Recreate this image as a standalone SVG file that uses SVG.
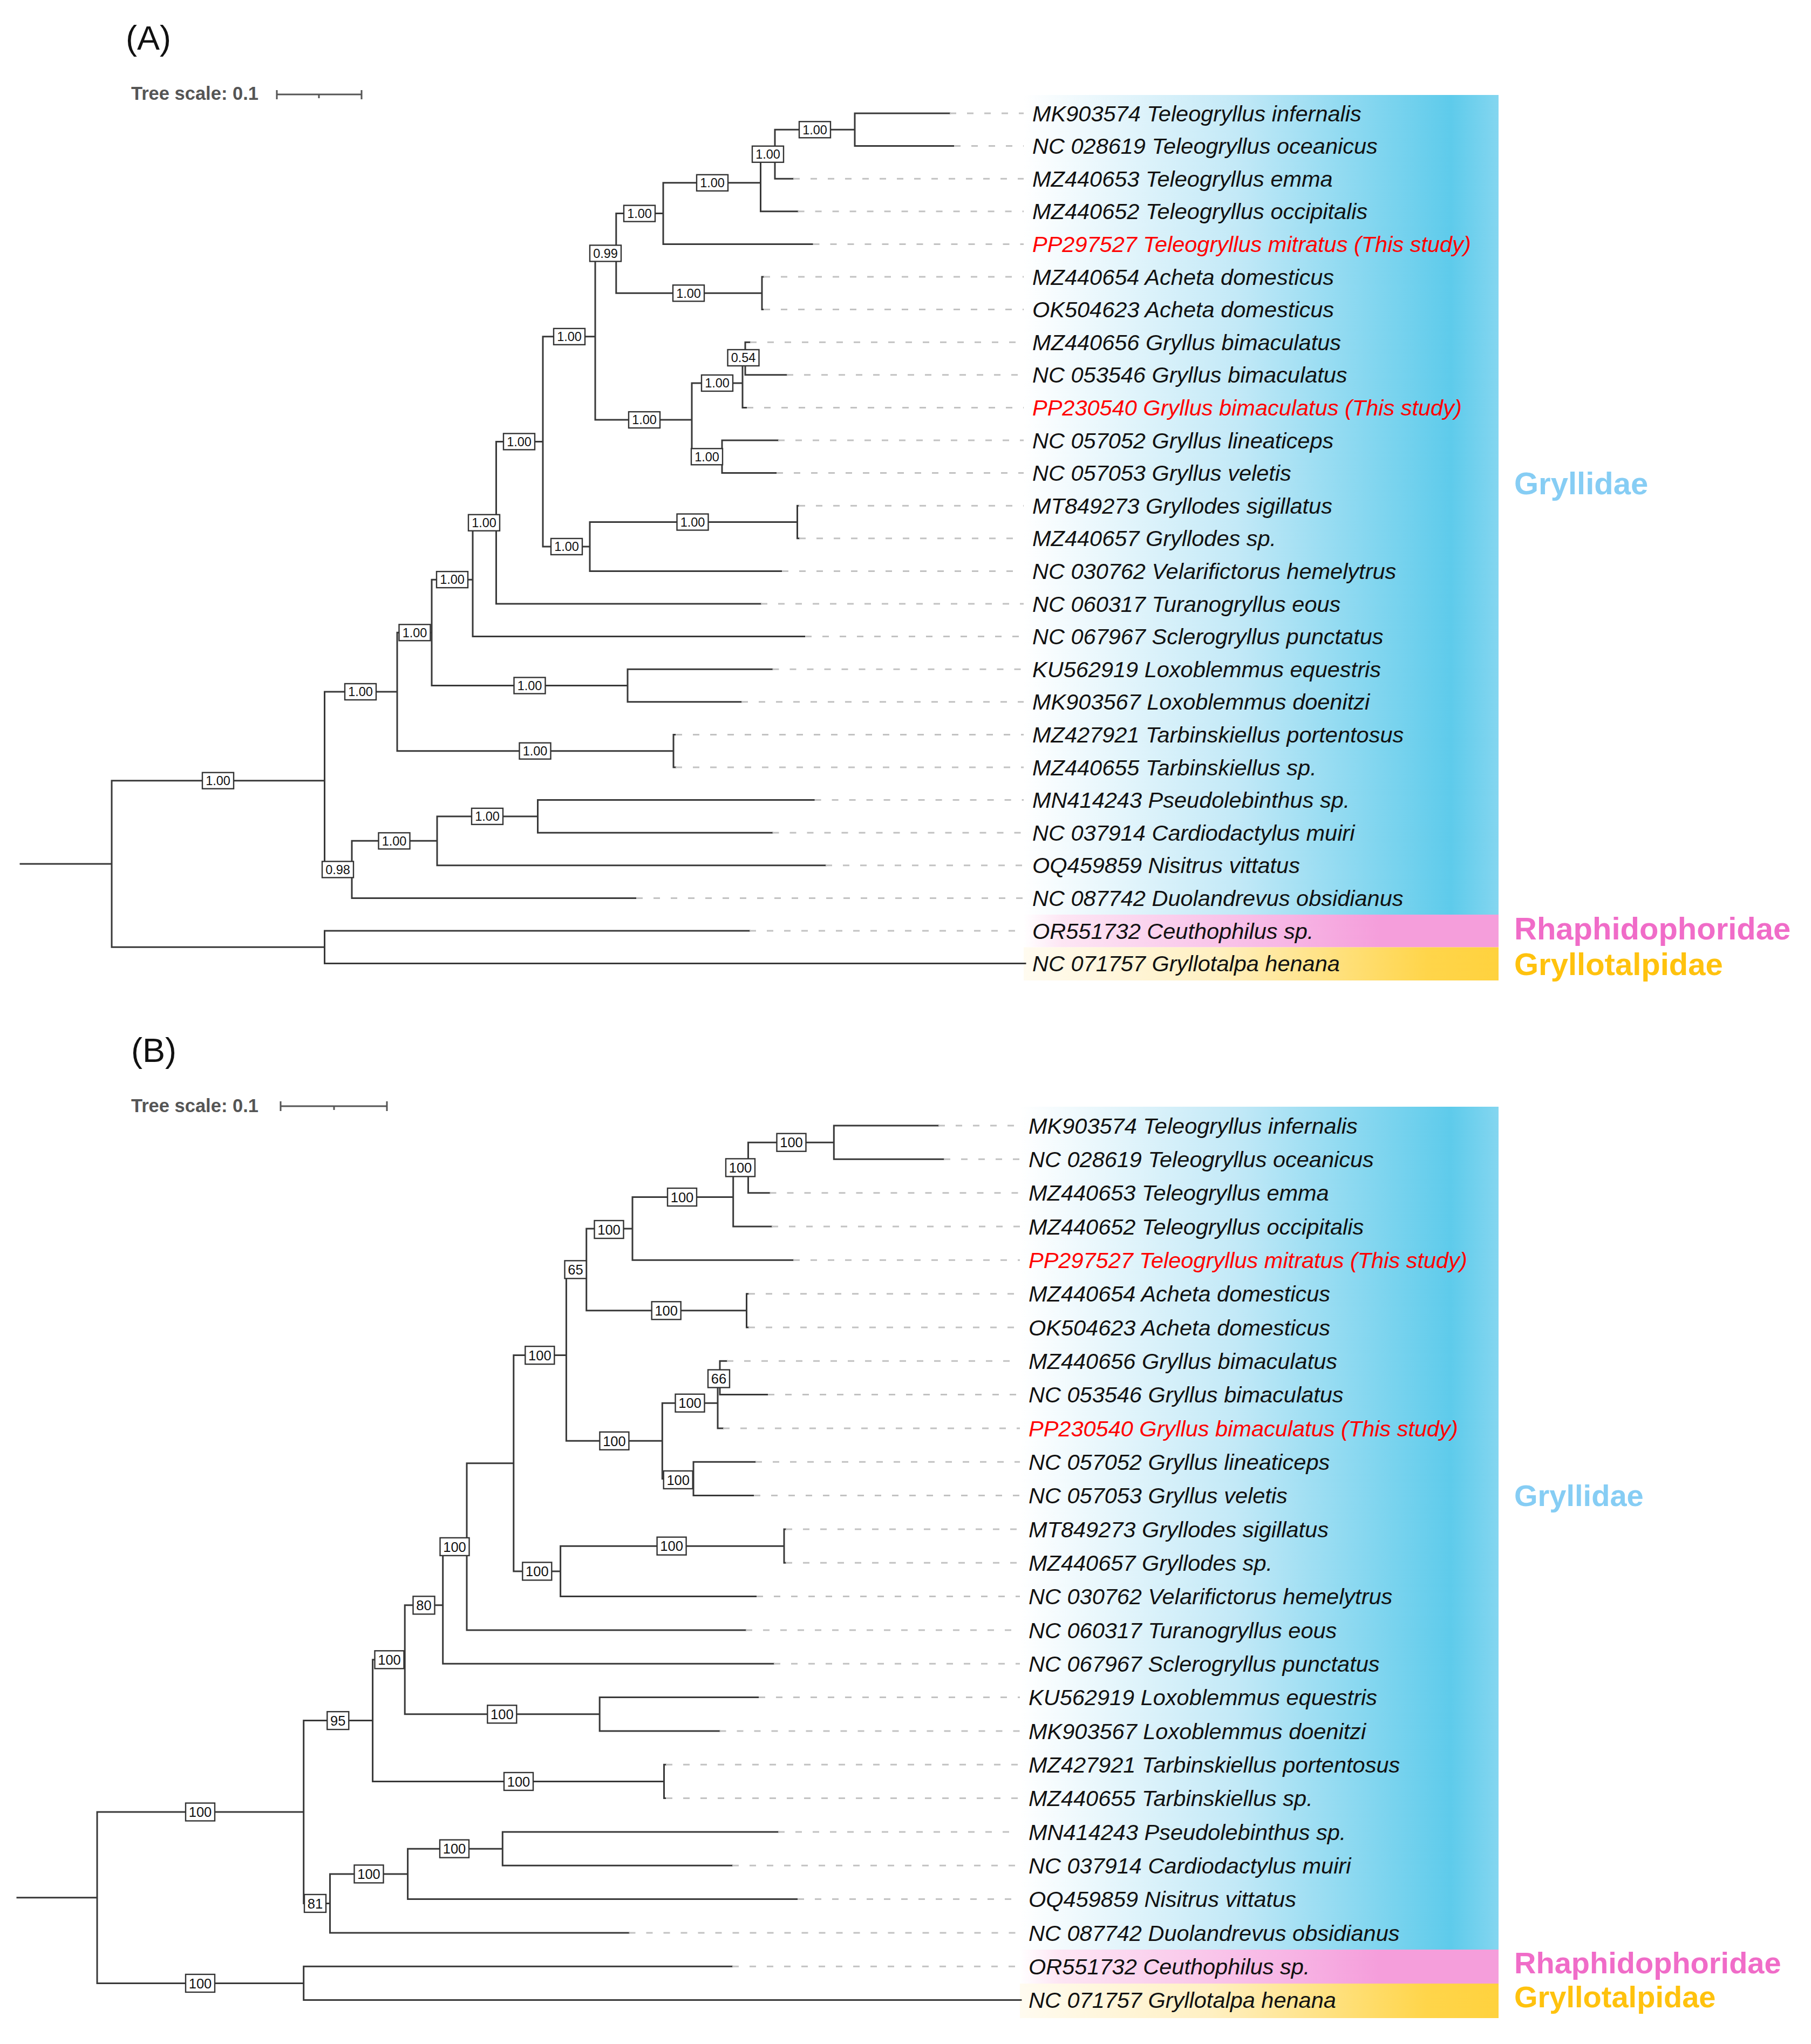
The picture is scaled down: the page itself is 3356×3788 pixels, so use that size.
<svg xmlns="http://www.w3.org/2000/svg" width="3356" height="3788" viewBox="0 0 3356 3788">
<defs>
<style>
.br{stroke:#383838;stroke-width:3;fill:none;stroke-linecap:square}
.dl{stroke:#c2c2c2;stroke-width:3;stroke-dasharray:12 20;fill:none}
.lb{font-family:"Liberation Sans",Arial,sans-serif;font-style:italic;font-size:41.5px;fill:#111}
.red{fill:#ff0000}
.bx{fill:#fff;stroke:#333;stroke-width:2.4}
.bt{font-family:"Liberation Sans",Arial,sans-serif;font-size:23.5px;fill:#111;text-anchor:middle}
.bt2{font-family:"Liberation Sans",Arial,sans-serif;font-size:25.5px;fill:#111;text-anchor:middle}
.famA{font-family:"Liberation Sans",Arial,sans-serif;font-weight:bold;font-size:58px}
.famB{font-family:"Liberation Sans",Arial,sans-serif;font-weight:bold;font-size:56px}
.ts{font-family:"Liberation Sans",Arial,sans-serif;font-weight:bold;font-size:34.5px;fill:#555}
.sb{stroke:#555;stroke-width:3;fill:none}
.ttl{font-family:"Liberation Sans",Arial,sans-serif;font-size:63px;fill:#111}
</style>
<linearGradient id="gBlue" x1="0" y1="0" x2="1" y2="0">
<stop offset="0" stop-color="#ffffff"/>
<stop offset="0.45" stop-color="#c3e9f7"/>
<stop offset="0.9" stop-color="#5ecbeb"/>
<stop offset="1" stop-color="#84d6f0"/>
</linearGradient>
<linearGradient id="gPink" x1="0" y1="0" x2="1" y2="0">
<stop offset="0" stop-color="#ffffff"/>
<stop offset="0.08" stop-color="#fde6f4"/>
<stop offset="0.55" stop-color="#f7b6e5"/>
<stop offset="0.75" stop-color="#f59edb"/>
<stop offset="1" stop-color="#f59edb"/>
</linearGradient>
<linearGradient id="gYel" x1="0" y1="0" x2="1" y2="0">
<stop offset="0" stop-color="#fffbf0"/>
<stop offset="0.4" stop-color="#fff0c2"/>
<stop offset="0.85" stop-color="#ffd54a"/>
<stop offset="1" stop-color="#ffd23e"/>
</linearGradient>
</defs>
<rect width="3356" height="3788" fill="#ffffff"/>

<!-- ===== Panel A ===== -->
<g id="A-background">
<rect x="1897" y="176" width="880" height="1519" fill="url(#gBlue)"/>
<rect x="1897" y="1695" width="880" height="60.5" fill="url(#gPink)"/>
<rect x="1897" y="1755.5" width="880" height="61.5" fill="url(#gYel)"/>
</g>
<g id="A-title">
<text class="ttl" x="233" y="92">(A)</text>
<text class="ts" x="243" y="185">Tree scale: 0.1</text>
<path class="sb" d="M513,175H670M513,167V184M670,167V184M591,175V182"/>
</g>
<g id="A-families">
<text class="famA" x="2806" y="916" fill="#86cdf4">Gryllidae</text>
<text class="famA" x="2806" y="1741" fill="#f06cc8">Rhaphidophoridae</text>
<text class="famA" x="2806" y="1807" fill="#ffc20e">Gryllotalpidae</text>
</g>
<g id="A-connectors">
<path class="br" d="M38,1601H207M207,1446.7V1755.3M207,1446.7H601.5M207,1755.3H601.5M601.5,1725V1785.6M601.5,1725H1389M601.5,1785.6H1900
M601.5,1282V1611.4M601.5,1282H736M601.5,1611.4H652M652,1558.35V1664.4M652,1558.35H810M652,1664.4H1179
M810,1512.9V1603.8M810,1512.9H996.5M810,1603.8H1530M996.5,1482.6V1543.2M996.5,1482.6H1509.6M996.5,1543.2H1431.5
M736,1172.3V1391.7M736,1172.3H800M736,1391.7H1248M1248,1361.4V1422M1248,1361.4H1252M1248,1422H1252
M800,1074.15V1270.5M800,1074.15H876M800,1270.5H1163M1163,1240.2V1300.8M1163,1240.2H1431.5M1163,1300.8H1374
M876,968.7V1179.6M876,968.7H919.5M876,1179.6H1492M919.5,818.4V1119M919.5,818.4H1006M919.5,1119H1410
M1006,623.8V1012.95M1006,623.8H1103M1006,1012.95H1093M1093,967.5V1058.4M1093,967.5H1477.5M1093,1058.4H1449
M1477.5,937.2V997.8M1477.5,937.2H1480M1477.5,997.8H1481
M1103,469.45V778.1M1103,469.45H1141.8M1103,778.1H1282M1282,709.95V846.3M1282,709.95H1376M1282,846.3H1338
M1338,816V876.6M1338,816H1442M1338,876.6H1439M1376,664.5V755.4M1376,664.5H1381M1376,755.4H1384
M1381,634.2V694.8M1381,634.2H1390M1381,694.8H1458
M1141.8,395.6V543.3M1141.8,395.6H1229M1141.8,543.3H1412M1412,513V573.6M1412,513H1415M1412,573.6H1415
M1229,338.8V452.4M1229,338.8H1409.5M1229,452.4H1506.5M1409.5,285.75V391.8M1409.5,285.75H1436M1409.5,391.8H1478.6
M1436,240.3V331.2M1436,240.3H1584M1436,331.2H1470M1584,210V270.6M1584,210H1760M1584,270.6H1768"/>
</g>
<g id="A-supports">
<g id="A-n-tele3"><rect class="bx" x="1481" y="225.3" width="58" height="30"/><text class="bt" x="1510" y="248.5">1.00</text></g>
<g id="A-n-tele2"><rect class="bx" x="1394" y="270.75" width="58" height="30"/><text class="bt" x="1423" y="293.95">1.00</text></g>
<g id="A-n-tele1"><rect class="bx" x="1291" y="323.8" width="58" height="30"/><text class="bt" x="1320" y="347">1.00</text></g>
<g id="A-n-tele"><rect class="bx" x="1156" y="380.6" width="58" height="30"/><text class="bt" x="1185" y="403.8">1.00</text></g>
<g id="A-n-099"><rect class="bx" x="1093" y="454.45" width="58" height="30"/><text class="bt" x="1122" y="477.65">0.99</text></g>
<g id="A-n-acheta"><rect class="bx" x="1247" y="528.3" width="58" height="30"/><text class="bt" x="1276" y="551.5">1.00</text></g>
<g id="A-n-x"><rect class="bx" x="1026" y="608.8" width="58" height="30"/><text class="bt" x="1055" y="632">1.00</text></g>
<g id="A-n-054"><rect class="bx" x="1348.5" y="648" width="58" height="30"/><text class="bt" x="1377.5" y="671.2">0.54</text></g>
<g id="A-n-g1"><rect class="bx" x="1300" y="694.95" width="58" height="30"/><text class="bt" x="1329" y="718.15">1.00</text></g>
<g id="A-n-g2"><rect class="bx" x="1281" y="831.3" width="58" height="30"/><text class="bt" x="1310" y="854.5">1.00</text></g>
<g id="A-n-gryllus"><rect class="bx" x="1165" y="763.1" width="58" height="30"/><text class="bt" x="1194" y="786.3">1.00</text></g>
<g id="A-n-gryllodes"><rect class="bx" x="1254.5" y="952.5" width="58" height="30"/><text class="bt" x="1283.5" y="975.7">1.00</text></g>
<g id="A-n-gv"><rect class="bx" x="1021" y="997.95" width="58" height="30"/><text class="bt" x="1050" y="1021.15">1.00</text></g>
<g id="A-n-a1111"><rect class="bx" x="933" y="803.4" width="58" height="30"/><text class="bt" x="962" y="826.6">1.00</text></g>
<g id="A-n-a111"><rect class="bx" x="868" y="953.7" width="58" height="30"/><text class="bt" x="897" y="976.9">1.00</text></g>
<g id="A-n-a11"><rect class="bx" x="809" y="1059.15" width="58" height="30"/><text class="bt" x="838" y="1082.35">1.00</text></g>
<g id="A-n-loxo"><rect class="bx" x="952.5" y="1255.5" width="58" height="30"/><text class="bt" x="981.5" y="1278.7">1.00</text></g>
<g id="A-n-a1"><rect class="bx" x="739.5" y="1157.3" width="58" height="30"/><text class="bt" x="768.5" y="1180.5">1.00</text></g>
<g id="A-n-tarb"><rect class="bx" x="962.5" y="1376.7" width="58" height="30"/><text class="bt" x="991.5" y="1399.9">1.00</text></g>
<g id="A-n-a"><rect class="bx" x="639" y="1267" width="58" height="30"/><text class="bt" x="668" y="1290.2">1.00</text></g>
<g id="A-n-b11"><rect class="bx" x="874" y="1497.9" width="58" height="30"/><text class="bt" x="903" y="1521.1">1.00</text></g>
<g id="A-n-b1"><rect class="bx" x="701.5" y="1543.35" width="58" height="30"/><text class="bt" x="730.5" y="1566.55">1.00</text></g>
<g id="A-n-b"><rect class="bx" x="597" y="1596.4" width="58" height="30"/><text class="bt" x="626" y="1619.6">0.98</text></g>
<g id="A-n-ens"><rect class="bx" x="375" y="1431.7" width="58" height="30"/><text class="bt" x="404" y="1454.9">1.00</text></g>
</g>
<g id="A-leaves">
<g id="A-leaf-1"><path class="dl" d="M1760,210H1897"/><text class="lb" x="1913" y="224.5">MK903574 Teleogryllus infernalis</text></g>
<g id="A-leaf-2"><path class="dl" d="M1768,270.6H1897"/><text class="lb" x="1913" y="285.1">NC 028619 Teleogryllus oceanicus</text></g>
<g id="A-leaf-3"><path class="dl" d="M1470,331.2H1897"/><text class="lb" x="1913" y="345.7">MZ440653 Teleogryllus emma</text></g>
<g id="A-leaf-4"><path class="dl" d="M1478.6,391.8H1897"/><text class="lb" x="1913" y="406.3">MZ440652 Teleogryllus occipitalis</text></g>
<g id="A-leaf-5"><path class="dl" d="M1506.5,452.4H1897"/><text class="lb red" x="1913" y="466.9">PP297527 Teleogryllus mitratus (This study)</text></g>
<g id="A-leaf-6"><path class="dl" d="M1415,513H1897"/><text class="lb" x="1913" y="527.5">MZ440654 Acheta domesticus</text></g>
<g id="A-leaf-7"><path class="dl" d="M1415,573.6H1897"/><text class="lb" x="1913" y="588.1">OK504623 Acheta domesticus</text></g>
<g id="A-leaf-8"><path class="dl" d="M1390,634.2H1897"/><text class="lb" x="1913" y="648.7">MZ440656 Gryllus bimaculatus</text></g>
<g id="A-leaf-9"><path class="dl" d="M1458,694.8H1897"/><text class="lb" x="1913" y="709.3">NC 053546 Gryllus bimaculatus</text></g>
<g id="A-leaf-10"><path class="dl" d="M1384,755.4H1897"/><text class="lb red" x="1913" y="769.9">PP230540 Gryllus bimaculatus (This study)</text></g>
<g id="A-leaf-11"><path class="dl" d="M1442,816H1897"/><text class="lb" x="1913" y="830.5">NC 057052 Gryllus lineaticeps</text></g>
<g id="A-leaf-12"><path class="dl" d="M1439,876.6H1897"/><text class="lb" x="1913" y="891.1">NC 057053 Gryllus veletis</text></g>
<g id="A-leaf-13"><path class="dl" d="M1480,937.2H1897"/><text class="lb" x="1913" y="951.7">MT849273 Gryllodes sigillatus</text></g>
<g id="A-leaf-14"><path class="dl" d="M1481,997.8H1897"/><text class="lb" x="1913" y="1012.3">MZ440657 Gryllodes sp.</text></g>
<g id="A-leaf-15"><path class="dl" d="M1449,1058.4H1897"/><text class="lb" x="1913" y="1072.9">NC 030762 Velarifictorus hemelytrus</text></g>
<g id="A-leaf-16"><path class="dl" d="M1410,1119H1897"/><text class="lb" x="1913" y="1133.5">NC 060317 Turanogryllus eous</text></g>
<g id="A-leaf-17"><path class="dl" d="M1492,1179.6H1897"/><text class="lb" x="1913" y="1194.1">NC 067967 Sclerogryllus punctatus</text></g>
<g id="A-leaf-18"><path class="dl" d="M1431.5,1240.2H1897"/><text class="lb" x="1913" y="1254.7">KU562919 Loxoblemmus equestris</text></g>
<g id="A-leaf-19"><path class="dl" d="M1374,1300.8H1897"/><text class="lb" x="1913" y="1315.3">MK903567 Loxoblemmus doenitzi</text></g>
<g id="A-leaf-20"><path class="dl" d="M1252,1361.4H1897"/><text class="lb" x="1913" y="1375.9">MZ427921 Tarbinskiellus portentosus</text></g>
<g id="A-leaf-21"><path class="dl" d="M1252,1422H1897"/><text class="lb" x="1913" y="1436.5">MZ440655 Tarbinskiellus sp.</text></g>
<g id="A-leaf-22"><path class="dl" d="M1509.6,1482.6H1897"/><text class="lb" x="1913" y="1497.1">MN414243 Pseudolebinthus sp.</text></g>
<g id="A-leaf-23"><path class="dl" d="M1431.5,1543.2H1897"/><text class="lb" x="1913" y="1557.7">NC 037914 Cardiodactylus muiri</text></g>
<g id="A-leaf-24"><path class="dl" d="M1530,1603.8H1897"/><text class="lb" x="1913" y="1618.3">OQ459859 Nisitrus vittatus</text></g>
<g id="A-leaf-25"><path class="dl" d="M1179,1664.4H1897"/><text class="lb" x="1913" y="1678.9">NC 087742 Duolandrevus obsidianus</text></g>
<g id="A-leaf-26"><path class="dl" d="M1389,1725H1897"/><text class="lb" x="1913" y="1739.5">OR551732 Ceuthophilus sp.</text></g>
<g id="A-leaf-27"><text class="lb" x="1913" y="1800.1">NC 071757 Gryllotalpa henana</text></g>
</g>

<!-- ===== Panel B ===== -->
<g id="B-background">
<rect x="1890" y="2051" width="887" height="1562" fill="url(#gBlue)"/>
<rect x="1890" y="3613" width="887" height="63" fill="url(#gPink)"/>
<rect x="1890" y="3676" width="887" height="64" fill="url(#gYel)"/>
</g>
<g id="B-title">
<text class="ttl" x="243" y="1968">(B)</text>
<text class="ts" x="243" y="2061">Tree scale: 0.1</text>
<path class="sb" d="M520,2050H717M520,2041V2059M717,2041V2059M619,2050V2057"/>
</g>
<g id="B-families">
<text class="famB" x="2806" y="2791" fill="#86cdf4">Gryllidae</text>
<text class="famB" x="2806" y="3657" fill="#f06cc8">Rhaphidophoridae</text>
<text class="famB" x="2806" y="3720" fill="#ffc20e">Gryllotalpidae</text>
</g>
<g id="B-connectors">
<path class="br" d="M32,3516.7H180M180,3358V3675.45M180,3358H562.7M180,3675.45H562.7M562.7,3644.3V3706.6M562.7,3644.3H1357M562.7,3706.6H1892
M562.7,3188.6V3527.45M562.7,3188.6H690.6M562.7,3527.45H611.5M611.5,3472.9V3582M611.5,3472.9H755.6M611.5,3582H1165.5
M755.6,3426.15V3519.6M755.6,3426.15H931.3M755.6,3519.6H1478M931.3,3395V3457.3M931.3,3395H1442M931.3,3457.3H1357
M690.6,3075.8V3301.45M690.6,3075.8H750.2M690.6,3301.45H1230.5M1230.5,3270.3V3332.6M1230.5,3270.3H1234M1230.5,3332.6H1234
M750.2,2974.85V3176.8M750.2,2974.85H820.7M750.2,3176.8H1111.2M1111.2,3145.6V3208M1111.2,3145.6H1406M1111.2,3208H1333.5
M820.7,2866.4V3083.3M820.7,2866.4H865M820.7,3083.3H1434M865,2711.75V3021M865,2711.75H951.8M865,3021H1382
M951.8,2511.6V2911.9M951.8,2511.6H1049.4M951.8,2911.9H1038.6M1038.6,2865.15V2958.6M1038.6,2865.15H1453M1038.6,2958.6H1402
M1453,2834V2896.3M1453,2834H1456M1453,2896.3H1456
M1049.4,2352.85V2670.3M1049.4,2352.85H1086.7M1049.4,2670.3H1227.3M1227.3,2600.2V2740.45M1227.3,2600.2H1330M1227.3,2740.45H1285
M1285,2709.3V2771.6M1285,2709.3H1400M1285,2771.6H1397M1330,2553.45V2647M1330,2553.45H1334M1330,2647H1340
M1334,2522.3V2584.6M1334,2522.3H1347M1334,2584.6H1423
M1086.7,2276.9V2428.8M1086.7,2276.9H1172M1086.7,2428.8H1383.5M1383.5,2397.65V2460M1383.5,2397.65H1387M1383.5,2460H1387
M1172,2218.5V2335.3M1172,2218.5H1358.7M1172,2335.3H1470M1358.7,2163.9V2273M1358.7,2163.9H1386.5M1358.7,2273H1430
M1386.5,2117.2V2210.66M1386.5,2117.2H1545.3M1386.5,2210.66H1426.5M1545.3,2086V2148.33M1545.3,2086H1739M1545.3,2148.33H1749"/>
</g>
<g id="B-supports">
<g id="B-n-t3"><rect class="bx" x="1439.5" y="2100.7" width="54" height="33"/><text class="bt2" x="1466.5" y="2126.4">100</text></g>
<g id="B-n-t2"><rect class="bx" x="1345" y="2147.4" width="54" height="33"/><text class="bt2" x="1372" y="2173.1">100</text></g>
<g id="B-n-t1"><rect class="bx" x="1237" y="2202" width="54" height="33"/><text class="bt2" x="1264" y="2227.7">100</text></g>
<g id="B-n-t"><rect class="bx" x="1101.5" y="2262" width="54" height="33"/><text class="bt2" x="1128.5" y="2287.7">100</text></g>
<g id="B-n-65"><rect class="bx" x="1046.5" y="2336.35" width="40" height="33"/><text class="bt2" x="1066.5" y="2362.05">65</text></g>
<g id="B-n-ach"><rect class="bx" x="1207.7" y="2412.3" width="54" height="33"/><text class="bt2" x="1234.7" y="2438">100</text></g>
<g id="B-n-x"><rect class="bx" x="973.3" y="2495.1" width="54" height="33"/><text class="bt2" x="1000.3" y="2520.8">100</text></g>
<g id="B-n-66"><rect class="bx" x="1312" y="2538.5" width="40" height="33"/><text class="bt2" x="1332" y="2564.2">66</text></g>
<g id="B-n-g1"><rect class="bx" x="1251.5" y="2583.7" width="54" height="33"/><text class="bt2" x="1278.5" y="2609.4">100</text></g>
<g id="B-n-gry"><rect class="bx" x="1111.4" y="2653.8" width="54" height="33"/><text class="bt2" x="1138.4" y="2679.5">100</text></g>
<g id="B-n-g2"><rect class="bx" x="1229.7" y="2725.95" width="54" height="33"/><text class="bt2" x="1256.7" y="2751.65">100</text></g>
<g id="B-n-gds"><rect class="bx" x="1217.6" y="2848.65" width="54" height="33"/><text class="bt2" x="1244.6" y="2874.35">100</text></g>
<g id="B-n-gv"><rect class="bx" x="968.3" y="2895.4" width="54" height="33"/><text class="bt2" x="995.3" y="2921.1">100</text></g>
<g id="B-n-a111"><rect class="bx" x="815.5" y="2849.9" width="54" height="33"/><text class="bt2" x="842.5" y="2875.6">100</text></g>
<g id="B-n-a11"><rect class="bx" x="765.5" y="2958.35" width="40" height="33"/><text class="bt2" x="785.5" y="2984.05">80</text></g>
<g id="B-n-loxo"><rect class="bx" x="903.3" y="3160.3" width="54" height="33"/><text class="bt2" x="930.3" y="3186">100</text></g>
<g id="B-n-a1"><rect class="bx" x="694.5" y="3059.3" width="54" height="33"/><text class="bt2" x="721.5" y="3085">100</text></g>
<g id="B-n-tarb"><rect class="bx" x="934" y="3284.95" width="54" height="33"/><text class="bt2" x="961" y="3310.65">100</text></g>
<g id="B-n-a"><rect class="bx" x="606.3" y="3172.1" width="40" height="33"/><text class="bt2" x="626.3" y="3197.8">95</text></g>
<g id="B-n-b11"><rect class="bx" x="815" y="3409.65" width="54" height="33"/><text class="bt2" x="842" y="3435.35">100</text></g>
<g id="B-n-b1"><rect class="bx" x="656.5" y="3456.4" width="54" height="33"/><text class="bt2" x="683.5" y="3482.1">100</text></g>
<g id="B-n-b"><rect class="bx" x="564" y="3510.95" width="40" height="33"/><text class="bt2" x="584" y="3536.65">81</text></g>
<g id="B-n-ens"><rect class="bx" x="344" y="3341.5" width="54" height="33"/><text class="bt2" x="371" y="3367.2">100</text></g>
<g id="B-n-rg"><rect class="bx" x="344" y="3658.95" width="54" height="33"/><text class="bt2" x="371" y="3684.65">100</text></g>
</g>
<g id="B-leaves">
<g id="B-leaf-1"><path class="dl" d="M1739,2086H1890"/><text class="lb" x="1906" y="2100.5">MK903574 Teleogryllus infernalis</text></g>
<g id="B-leaf-2"><path class="dl" d="M1749,2148.3H1890"/><text class="lb" x="1906" y="2162.8">NC 028619 Teleogryllus oceanicus</text></g>
<g id="B-leaf-3"><path class="dl" d="M1426.5,2210.7H1890"/><text class="lb" x="1906" y="2225.2">MZ440653 Teleogryllus emma</text></g>
<g id="B-leaf-4"><path class="dl" d="M1430,2273H1890"/><text class="lb" x="1906" y="2287.5">MZ440652 Teleogryllus occipitalis</text></g>
<g id="B-leaf-5"><path class="dl" d="M1470,2335.3H1890"/><text class="lb red" x="1906" y="2349.8">PP297527 Teleogryllus mitratus (This study)</text></g>
<g id="B-leaf-6"><path class="dl" d="M1387,2397.7H1890"/><text class="lb" x="1906" y="2412.2">MZ440654 Acheta domesticus</text></g>
<g id="B-leaf-7"><path class="dl" d="M1387,2460H1890"/><text class="lb" x="1906" y="2474.5">OK504623 Acheta domesticus</text></g>
<g id="B-leaf-8"><path class="dl" d="M1347,2522.3H1890"/><text class="lb" x="1906" y="2536.8">MZ440656 Gryllus bimaculatus</text></g>
<g id="B-leaf-9"><path class="dl" d="M1423,2584.6H1890"/><text class="lb" x="1906" y="2599.1">NC 053546 Gryllus bimaculatus</text></g>
<g id="B-leaf-10"><path class="dl" d="M1340,2647H1890"/><text class="lb red" x="1906" y="2661.5">PP230540 Gryllus bimaculatus (This study)</text></g>
<g id="B-leaf-11"><path class="dl" d="M1400,2709.3H1890"/><text class="lb" x="1906" y="2723.8">NC 057052 Gryllus lineaticeps</text></g>
<g id="B-leaf-12"><path class="dl" d="M1397,2771.6H1890"/><text class="lb" x="1906" y="2786.1">NC 057053 Gryllus veletis</text></g>
<g id="B-leaf-13"><path class="dl" d="M1456,2834H1890"/><text class="lb" x="1906" y="2848.5">MT849273 Gryllodes sigillatus</text></g>
<g id="B-leaf-14"><path class="dl" d="M1456,2896.3H1890"/><text class="lb" x="1906" y="2910.8">MZ440657 Gryllodes sp.</text></g>
<g id="B-leaf-15"><path class="dl" d="M1402,2958.6H1890"/><text class="lb" x="1906" y="2973.1">NC 030762 Velarifictorus hemelytrus</text></g>
<g id="B-leaf-16"><path class="dl" d="M1382,3021H1890"/><text class="lb" x="1906" y="3035.5">NC 060317 Turanogryllus eous</text></g>
<g id="B-leaf-17"><path class="dl" d="M1434,3083.3H1890"/><text class="lb" x="1906" y="3097.8">NC 067967 Sclerogryllus punctatus</text></g>
<g id="B-leaf-18"><path class="dl" d="M1406,3145.6H1890"/><text class="lb" x="1906" y="3160.1">KU562919 Loxoblemmus equestris</text></g>
<g id="B-leaf-19"><path class="dl" d="M1333.5,3208H1890"/><text class="lb" x="1906" y="3222.5">MK903567 Loxoblemmus doenitzi</text></g>
<g id="B-leaf-20"><path class="dl" d="M1234,3270.3H1890"/><text class="lb" x="1906" y="3284.8">MZ427921 Tarbinskiellus portentosus</text></g>
<g id="B-leaf-21"><path class="dl" d="M1234,3332.6H1890"/><text class="lb" x="1906" y="3347.1">MZ440655 Tarbinskiellus sp.</text></g>
<g id="B-leaf-22"><path class="dl" d="M1442,3395H1890"/><text class="lb" x="1906" y="3409.5">MN414243 Pseudolebinthus sp.</text></g>
<g id="B-leaf-23"><path class="dl" d="M1357,3457.3H1890"/><text class="lb" x="1906" y="3471.8">NC 037914 Cardiodactylus muiri</text></g>
<g id="B-leaf-24"><path class="dl" d="M1478,3519.6H1890"/><text class="lb" x="1906" y="3534.1">OQ459859 Nisitrus vittatus</text></g>
<g id="B-leaf-25"><path class="dl" d="M1165.5,3582H1890"/><text class="lb" x="1906" y="3596.5">NC 087742 Duolandrevus obsidianus</text></g>
<g id="B-leaf-26"><path class="dl" d="M1357,3644.3H1890"/><text class="lb" x="1906" y="3658.8">OR551732 Ceuthophilus sp.</text></g>
<g id="B-leaf-27"><text class="lb" x="1906" y="3721.1">NC 071757 Gryllotalpa henana</text></g>
</g>
</svg>
